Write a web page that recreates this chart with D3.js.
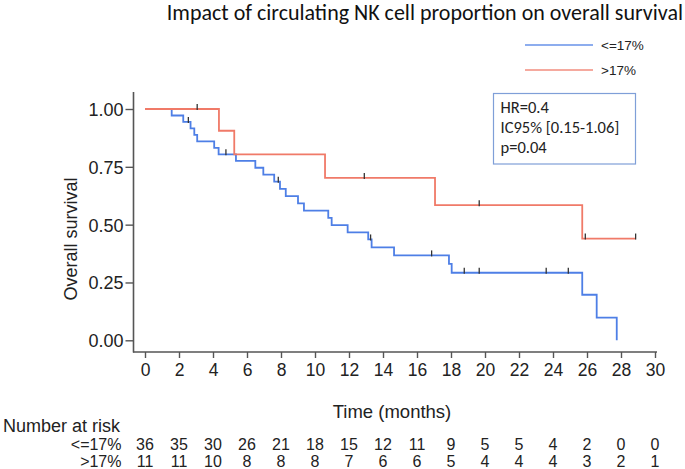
<!DOCTYPE html>
<html>
<head>
<meta charset="utf-8">
<script src="https://cdn.jsdelivr.net/npm/d3@7"></script>
<style>
html,body{margin:0;padding:0;background:#fff;}
svg{display:block;}
</style>
</head>
<body>
<svg id="chart" width="685" height="469"></svg>
<script>
// ---- data ----
const seriesNames = ["<=17%", ">17%"];
const blueTimes = [0, 1.57, 2.25, 2.68, 2.9, 3.07, 4.07, 4.33, 5.35, 6.49, 6.96, 7.6, 7.94, 8.28, 9.0, 9.35, 10.78, 10.98, 11.92, 13.13, 13.33, 14.65, 17.88, 18.04, 25.72, 26.57, 27.75];
const blueSurv  = [1, 0.972, 0.944, 0.916, 0.888, 0.860, 0.832, 0.804, 0.776, 0.746, 0.716, 0.686, 0.655, 0.623, 0.592, 0.561, 0.529, 0.498, 0.467, 0.436, 0.402, 0.367, 0.330, 0.292, 0.197, 0.098, 0];
const blueCensor = [2.55, 4.76, 7.84, 13.27, 16.86, 18.78, 19.66, 23.6, 24.9];
const redTimes = [0, 4.35, 5.25, 10.59, 17.06, 25.72, 28.86];
const redSurv  = [1, 0.906, 0.804, 0.702, 0.584, 0.440, 0.440];
const redCensor = [3.07, 12.9, 19.66, 25.9, 28.86];
const xTicks = [0,2,4,6,8,10,12,14,16,18,20,22,24,26,28,30];
const yTicks = [0, 0.25, 0.5, 0.75, 1];
const riskLow  = [36,35,30,26,21,18,15,12,11,9,5,5,4,2,0,0];
const riskHigh = [11,11,10,8,8,8,7,6,6,5,4,4,4,3,2,1];
const statsLines = ["HR=0.4", "IC95% [0.15-1.06]", "p=0.04"];
const titleText = "Impact of circulating NK cell proportion on overall survival";

// ---- styles ----
const BLUE = "#4e7fe6", RED = "#f07a68", AX = "#555";
const SANS = "'Liberation Sans', Arial, sans-serif";
const CAL = "Carlito, Calibri, Lato, 'Open Sans', sans-serif";

const svg = d3.select("#chart");
const x = d3.scaleLinear().domain([0,30]).range([145,655]);
const y = d3.scaleLinear().domain([0,1]).range([340.3,109]);

// title
svg.append("text").attr("x",683).attr("y",20).attr("text-anchor","end")
  .attr("font-family",CAL).attr("font-size",22).attr("fill","#111").text(titleText);

// legend
const leg = [{name:seriesNames[0],c:BLUE,y:45},{name:seriesNames[1],c:RED,y:70}];
leg.forEach(l=>{
  svg.append("line").attr("x1",525).attr("x2",593).attr("y1",l.y).attr("y2",l.y)
    .attr("stroke",l.c).attr("stroke-width",1.3).attr("opacity",0.85);
  svg.append("text").attr("x",601).attr("y",l.y+5).attr("font-family",SANS)
    .attr("font-size",13.5).attr("fill","#222").text(l.name);
});

// axes
const xAxis = d3.axisBottom(x).tickValues(xTicks).tickSize(6).tickPadding(6).tickFormat(d3.format("d"));
const gx = svg.append("g").attr("transform","translate(0,352)").call(xAxis);
gx.select(".domain").remove();
gx.selectAll(".tick line").attr("stroke",AX).attr("stroke-width",1.4);
gx.selectAll(".tick text").attr("font-family",SANS).attr("font-size",17.5).attr("fill","#222").attr("dy","0.71em");

const yAxis = d3.axisLeft(y).tickValues(yTicks).tickSize(8).tickPadding(2).tickFormat(d3.format(".2f"));
const gy = svg.append("g").attr("transform","translate(133.5,0)").call(yAxis);
gy.select(".domain").remove();
gy.selectAll(".tick line").attr("stroke",AX).attr("stroke-width",1.4);
gy.selectAll(".tick text").attr("font-family",SANS).attr("font-size",18).attr("fill","#222").attr("dy","0.36em");

svg.append("line").attr("x1",133.5).attr("x2",133.5).attr("y1",92).attr("y2",352.5).attr("stroke",AX).attr("stroke-width",1.6);
svg.append("line").attr("x1",133).attr("x2",657).attr("y1",352).attr("y2",352).attr("stroke",AX).attr("stroke-width",1.6);

svg.append("text").attr("transform","translate(77,239) rotate(-90)").attr("text-anchor","middle")
  .attr("font-family",SANS).attr("font-size",18).attr("fill","#222").text("Overall survival");
svg.append("text").attr("x",392).attr("y",418).attr("text-anchor","middle")
  .attr("font-family",SANS).attr("font-size",18.5).attr("fill","#222").text("Time (months)");

// curves
const line = d3.line().x(d=>x(d[0])).y(d=>y(d[1])).curve(d3.curveStepAfter);
function survAt(times, surv, t){ let v=surv[0]; for(let i=0;i<times.length;i++){ if(times[i]<=t) v=surv[i]; } return v; }
const series = [
  {t:blueTimes, s:blueSurv, c:BLUE, cens:blueCensor},
  {t:redTimes, s:redSurv, c:RED, cens:redCensor}
];
series.forEach(se=>{
  svg.append("path").datum(se.t.map((t,i)=>[t,se.s[i]])).attr("d",line)
    .attr("fill","none").attr("stroke",se.c).attr("stroke-width",1.8);
});
series.forEach(se=>{
  svg.selectAll(null).data(se.cens).enter().append("line")
    .attr("x1",d=>x(d)).attr("x2",d=>x(d))
    .attr("y1",d=>y(survAt(se.t,se.s,d))-5).attr("y2",d=>y(survAt(se.t,se.s,d))+1)
    .attr("stroke","#333").attr("stroke-width",1.3);
});

// stats box
svg.append("rect").attr("x",493.5).attr("y",93.5).attr("width",142).attr("height",70.5)
  .attr("fill","#fff").attr("stroke","#7f9fd8").attr("stroke-width",1.2);
statsLines.forEach((s,i)=>{
  svg.append("text").attr("x",500.5).attr("y",113+i*20.2).attr("font-family",CAL)
    .attr("font-size",16.5).attr("fill","#222").text(s);
});

// risk table
svg.append("text").attr("x",3).attr("y",432).attr("font-family",SANS).attr("font-size",18).attr("fill","#222").text("Number at risk");
[[riskLow,seriesNames[0],450],[riskHigh,seriesNames[1],467]].forEach(r=>{
  svg.append("text").attr("x",121.5).attr("y",r[2]).attr("text-anchor","end")
    .attr("font-family",SANS).attr("font-size",16).attr("fill","#222").text(r[1]);
  svg.selectAll(null).data(r[0]).enter().append("text")
    .attr("x",(d,i)=>x(xTicks[i])).attr("y",r[2]).attr("text-anchor","middle")
    .attr("font-family",SANS).attr("font-size",16).attr("fill","#222").text(d=>d);
});
</script>
</body>
</html>
